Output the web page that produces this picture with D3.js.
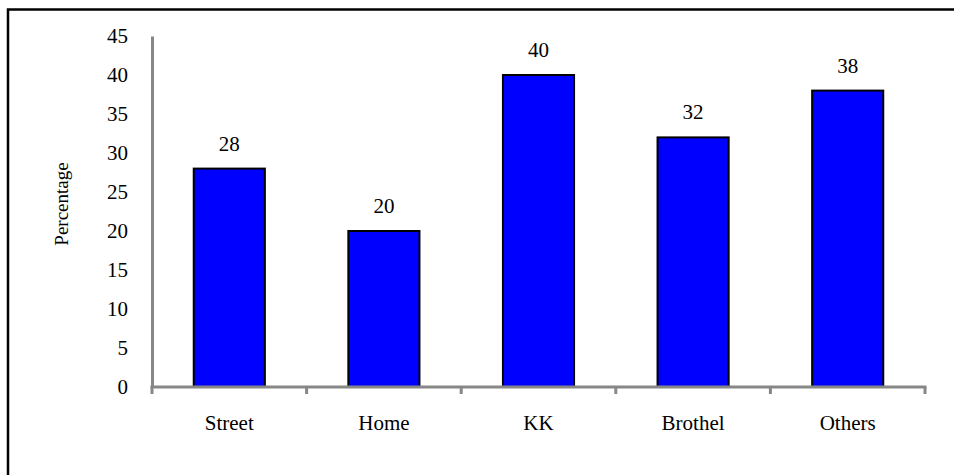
<!DOCTYPE html>
<html>
<head>
<meta charset="utf-8">
<script src="https://cdn.jsdelivr.net/npm/d3@7"></script>
<style>
  html, body { margin: 0; padding: 0; background: #fff; }
  svg { display: block; }
  text { font-family: "Liberation Serif", "DejaVu Serif", serif; fill: #000; }
</style>
</head>
<body>
<svg id="chart" width="954" height="475"></svg>
<script>
// Share of respondents by place of work
const categories = ["Street", "Home", "KK", "Brothel", "Others"];
const percentages = [28, 20, 40, 32, 38];
const yTicks = [0, 5, 10, 15, 20, 25, 30, 35, 40, 45];

const svg = d3.select("#chart");
const W = 954, H = 475;
const fontFamily = "Liberation Serif, DejaVu Serif, serif";

// outer frame (right and bottom edges run past the canvas)
svg.append("rect")
  .attr("x", 8).attr("y", 9.5)
  .attr("width", W + 20).attr("height", H + 20)
  .attr("fill", "none").attr("stroke", "#000").attr("stroke-width", 2.5);

const plot = { left: 152, right: 925, top: 36, bottom: 387 };

const x = d3.scaleBand()
  .domain(categories)
  .range([plot.left, plot.right])
  .paddingInner(0.54)
  .paddingOuter(0.27);

const xOuter = d3.scaleBand()
  .domain(categories)
  .range([plot.left, plot.right]);

const y = d3.scaleLinear().domain([0, 45]).range([plot.bottom, plot.top]);

const axisColor = "#878787";

// bars
svg.append("g").selectAll("rect")
  .data(percentages)
  .join("rect")
  .attr("x", (d, i) => x(categories[i]))
  .attr("y", d => y(d))
  .attr("width", x.bandwidth())
  .attr("height", d => y(0) - y(d))
  .attr("fill", "#0000FF")
  .attr("stroke", "#000")
  .attr("stroke-width", 2);

// value labels above bars
svg.append("g").selectAll("text")
  .data(percentages)
  .join("text")
  .attr("x", (d, i) => x(categories[i]) + x.bandwidth() / 2)
  .attr("y", d => y(d) - 18)
  .attr("text-anchor", "middle")
  .attr("font-size", 21)
  .text(d => d);

// y axis: line plus labels, no tick marks
const yAxis = d3.axisLeft(y).tickValues(yTicks).tickSize(0).tickPadding(24);
const gy = svg.append("g")
  .attr("transform", `translate(${plot.left},0)`)
  .call(yAxis);
gy.select(".domain").attr("stroke", axisColor).attr("stroke-width", 3);
gy.selectAll("text").attr("font-size", 21)
  .attr("font-family", fontFamily);

// x axis: ticks at category boundaries, labels centred under bars
const boundaries = categories.map(c => xOuter(c)).concat([plot.right]);
const gx = svg.append("g");
gx.append("line")
  .attr("x1", plot.left - 1.5).attr("x2", plot.right + 1.5)
  .attr("y1", y(0)).attr("y2", y(0))
  .attr("stroke", axisColor).attr("stroke-width", 3);
gx.selectAll("line.tick")
  .data(boundaries)
  .join("line")
  .attr("class", "tick")
  .attr("x1", d => d).attr("x2", d => d)
  .attr("y1", y(0)).attr("y2", y(0) + 7)
  .attr("stroke", axisColor).attr("stroke-width", 3);
gx.selectAll("text")
  .data(categories)
  .join("text")
  .attr("x", d => xOuter(d) + xOuter.bandwidth() / 2)
  .attr("y", 430)
  .attr("text-anchor", "middle")
  .attr("font-size", 21)
  .text(d => d);

// y axis title
svg.append("text")
  .attr("transform", "translate(68,204) rotate(-90)")
  .attr("text-anchor", "middle")
  .attr("font-size", 19)
  .text("Percentage");
</script>
</body>
</html>
